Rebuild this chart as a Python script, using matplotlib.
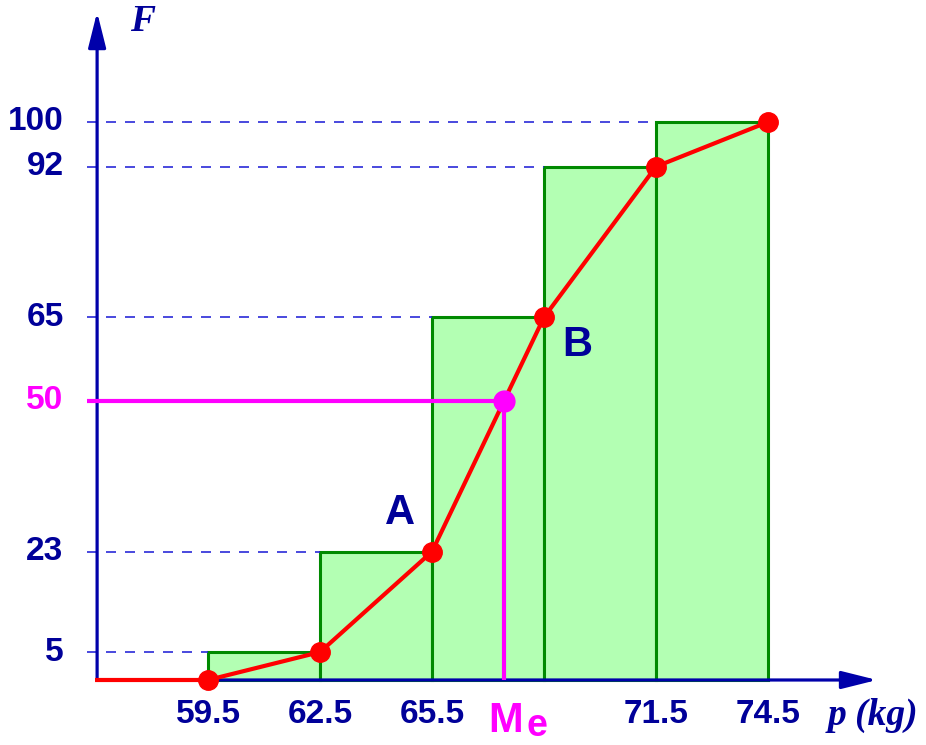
import matplotlib
matplotlib.use("Agg")
import matplotlib.pyplot as plt
from matplotlib.patches import Rectangle

# Data
edges = [59.5, 62.5, 65.5, 68.5, 71.5, 74.5]
cum_freq = [0, 5, 23, 65, 92, 100]
x_tick_values = [59.5, 62.5, 65.5, 71.5, 74.5]
x_tick_labels = ["59.5", "62.5", "65.5", "71.5", "74.5"]
y_tick_values = [5, 23, 65, 92, 100]
y_tick_labels = ["5", "23", "65", "92", "100"]
median_level = 50
x_origin = 56.53

# median by interpolation on the polygon
median_x = edges[2] + (median_level - cum_freq[2]) / (cum_freq[3] - cum_freq[2]) * (edges[3] - edges[2])

NAVY = "#000099"
AXIS = "#0000aa"
DASH = "#2a2ad8"
RED = "#ff0000"
MAG = "#ff00ff"
FILL = "#b3ffb3"
EDGE = "#008a00"

fig = plt.figure(figsize=(9.26, 7.45), dpi=100)
ax = fig.add_axes([0, 0, 1, 1])
ax.set_xlim(53.929, 78.732)
ax.set_ylim(-11.649, 121.86)
ax.axis("off")

# bars
for i in range(len(edges) - 1):
    ax.add_patch(Rectangle((edges[i], 0), edges[i + 1] - edges[i], cum_freq[i + 1],
                           facecolor=FILL, edgecolor=EDGE, lw=2.2, zorder=1))

# dashed guide lines
dash_start = 56.26
for i in range(1, len(cum_freq)):
    ax.plot([dash_start, edges[i - 1]], [cum_freq[i], cum_freq[i]], color=DASH,
            lw=1.2, linestyle=(0, (6, 5.4)), zorder=2)

# axes arrows
ax.annotate("", xy=(77.42, 0), xytext=(x_origin, 0),
            arrowprops=dict(arrowstyle="-|>,head_length=1.08,head_width=0.27",
                            color=AXIS, lw=2.3, shrinkA=0, shrinkB=0,
                            mutation_scale=20), zorder=3)
ax.annotate("", xy=(x_origin, 119.7), xytext=(x_origin, 0),
            arrowprops=dict(arrowstyle="-|>,head_length=1.08,head_width=0.27",
                            color=AXIS, lw=2.3, shrinkA=0, shrinkB=0,
                            mutation_scale=20), zorder=3)

# median lines
ax.plot([dash_start, median_x], [median_level, median_level], color=MAG, lw=3, zorder=4,
        solid_capstyle="butt")
ax.plot([median_x, median_x], [0, median_level], color=MAG, lw=3, zorder=4,
        solid_capstyle="butt")

# ogive
ax.plot([x_origin] + edges, [0] + cum_freq, color=RED, lw=3, zorder=5)
ax.plot(edges, cum_freq, "o", color=RED, ms=14, zorder=6)
ax.plot([median_x], [median_level], "o", color=MAG, ms=15, zorder=6)

# tick labels
for v, t in zip(x_tick_values, x_tick_labels):
    ax.text(v, -6.1, t, ha="center", va="center", fontsize=24, fontweight="bold",
            color=NAVY, family="Liberation Sans")
for v, t in zip(y_tick_values, y_tick_labels):
    ax.text(55.63, v, t, ha="right", va="center", fontsize=24, fontweight="bold",
            color=NAVY, family="Liberation Sans")
ax.text(55.63, median_level, "50", ha="right", va="center", fontsize=24,
        fontweight="bold", color=MAG, family="Liberation Sans")

# Me label
ax.text(median_x + 0.5, -7.4, "M", ha="right", va="center", fontsize=30,
        fontweight="bold", color=MAG, family="Liberation Sans")
ax.text(median_x + 0.89, -11.55, "e", ha="center", va="bottom", fontsize=27,
        fontweight="bold", color=MAG, family="Liberation Sans")

# point labels
ax.text(64.64, 30.0, "A", ha="center", va="center", fontsize=30, fontweight="bold",
        color=NAVY, family="Liberation Sans")
ax.text(69.38, 60.0, "B", ha="center", va="center", fontsize=30, fontweight="bold",
        color=NAVY, family="Liberation Sans")

# axis titles
ax.text(57.76, 118.0, "F", ha="center", va="center", fontsize=27, fontweight="bold",
        style="italic", color=NAVY, family="Liberation Serif")
ax.text(76.1, -6.3, "p (kg)", ha="left", va="center", fontsize=27, fontweight="bold",
        style="italic", color=NAVY, family="Liberation Serif")

fig.savefig("out.png", dpi=100)
